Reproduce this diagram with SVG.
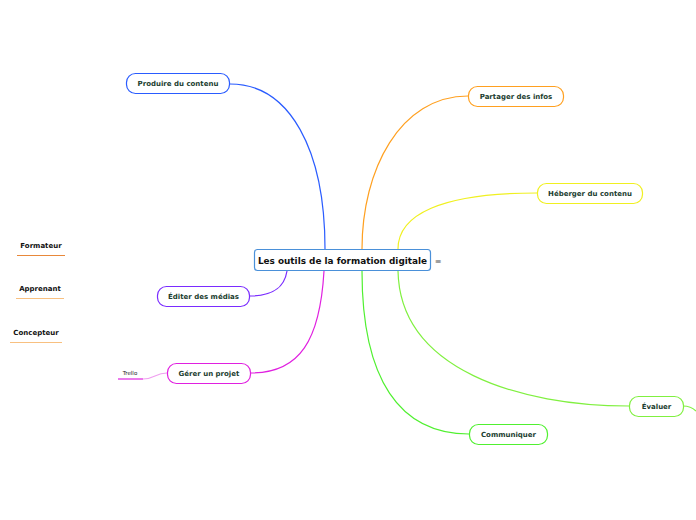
<svg xmlns="http://www.w3.org/2000/svg" width="696" height="520" viewBox="0 0 696 520">
<style>
.n{fill:#fff;stroke-width:1.2}
.t{font-family:"DejaVu Sans",sans-serif;font-weight:bold;font-size:7px;fill:#1b3d2f;text-anchor:middle}
.c{fill:none;stroke-width:1.2}
.l{font-family:"DejaVu Sans",sans-serif;font-weight:bold;font-size:7px;fill:#111;text-anchor:middle}
</style>
<rect width="696" height="520" fill="#fff"/>
<g id="connectors">
<path class="c" stroke="#2a5cff" d="M230,84 C290,84 325,150 325,249"/>
<path class="c" stroke="#ffa020" d="M468,96 C400,96 362,170 362,249"/>
<path class="c" stroke="#f0f020" d="M537,193 C440,193 398,215 398,249"/>
<path class="c" stroke="#80f040" d="M398,271 C400,370 520,406 629,406"/>
<path class="c" stroke="#80f040" d="M683,406 C690,406 693,408 696,411"/>
<path class="c" stroke="#50f030" d="M362,271 C362,380 400,434 469,434"/>
<path class="c" stroke="#7a2cff" d="M287,271 C284,290 270,296 250,296"/>
<path class="c" stroke="#e020e0" d="M324,271 C320,340 300,373 251,373"/>
<path class="c" stroke="#f0a0f0" d="M143,379 C155,379 155,373 167,373"/>
<path class="c" stroke="#e020e0" stroke-width="1.5" d="M118,379 H143"/>
</g>
<g id="central">
<rect x="254.5" y="249.5" width="176" height="21" rx="3" fill="#fff" stroke="#4a90d9" stroke-width="1.2"/>
<text x="342.5" y="263.5" font-family="DejaVu Sans,sans-serif" font-weight="bold" font-size="8.9" fill="#111" text-anchor="middle">Les outils de la formation digitale</text>
<text x="438" y="263.5" font-family="DejaVu Sans,sans-serif" font-size="8" fill="#555" text-anchor="middle">≡</text>
</g>
<g id="produire">
<rect class="n" x="126.5" y="73.5" width="103" height="20" rx="9" stroke="#2a5cff"/>
<text class="t" x="178" y="86">Produire du contenu</text>
</g>
<g id="partager">
<rect class="n" x="468.5" y="86.5" width="95" height="20" rx="9" stroke="#ffa020"/>
<text class="t" x="516" y="99">Partager des infos</text>
</g>
<g id="heberger">
<rect class="n" x="537.5" y="183.5" width="105" height="20" rx="9" stroke="#f0f020"/>
<text class="t" x="590" y="196">Héberger du contenu</text>
</g>
<g id="evaluer">
<rect class="n" x="629.5" y="396.5" width="54" height="20" rx="9" stroke="#80f040"/>
<text class="t" x="656.5" y="409">Évaluer</text>
</g>
<g id="communiquer">
<rect class="n" x="469.5" y="424.5" width="78" height="20" rx="9" stroke="#50f030"/>
<text class="t" x="508.5" y="437">Communiquer</text>
</g>
<g id="editer">
<rect class="n" x="157.5" y="286.5" width="92" height="20" rx="9" stroke="#7a2cff"/>
<text class="t" x="203.5" y="299">Éditer des médias</text>
</g>
<g id="gerer">
<rect class="n" x="167.5" y="363.5" width="83" height="20" rx="9" stroke="#e020e0"/>
<text class="t" x="209" y="376">Gérer un projet</text>
</g>
<g id="trello">
<text x="130" y="375" font-family="DejaVu Sans,sans-serif" font-size="5.5" fill="#222" text-anchor="middle">Trello</text>
</g>
<g id="formateur">
<text class="l" x="41" y="248">Formateur</text>
<line x1="17" y1="255.5" x2="65" y2="255.5" stroke="#e8883a" stroke-width="1.2"/>
</g>
<g id="apprenant">
<text class="l" x="40" y="291">Apprenant</text>
<line x1="16" y1="298.5" x2="64" y2="298.5" stroke="#f8c080" stroke-width="1.2"/>
</g>
<g id="concepteur">
<text class="l" x="36" y="335">Concepteur</text>
<line x1="10" y1="342.5" x2="62" y2="342.5" stroke="#f8c080" stroke-width="1.2"/>
</g>
</svg>
